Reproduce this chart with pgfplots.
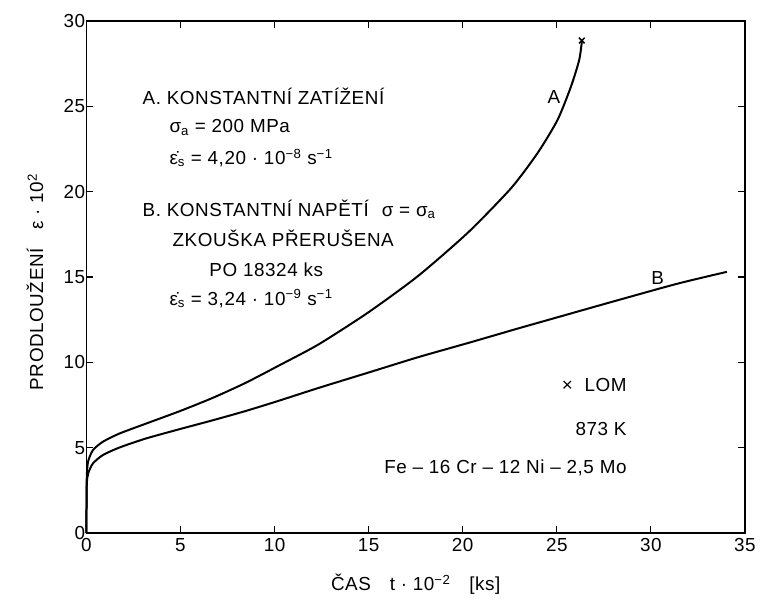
\documentclass[border=0pt]{standalone}
\usepackage{fontspec}
\setmainfont[LetterSpace=3]{Liberation Sans}
\usepackage{pgfplots}
\pgfplotsset{compat=1.18}
\begin{document}
\fontsize{19}{22}\selectfont
\begin{tikzpicture}
\begin{axis}[
  scale only axis, width=661bp, height=514bp,
  xmin=0, xmax=35, ymin=0, ymax=30,
  xtick={0,5,...,35}, ytick={0,5,...,30},
  tick align=inside, tick pos=both, major tick length=7bp,
  axis line style={line width=1.2bp},
  tick style={line width=1.2bp, black},
  /pgf/number format/assume math mode=true,
  ticklabel style={font=\fontsize{19}{22}\selectfont},
  xticklabel style={yshift=1bp},
  yticklabel style={inner xsep=1bp},
  xlabel={ČAS\quad t · 10\textsuperscript{−2}\quad [ks]},
  xlabel style={at={(axis description cs:0.5,-0.112)}, anchor=base},
  ylabel={PRODLOUŽENÍ\quad ε · 10\textsuperscript{2}},
  ylabel style={at={(axis description cs:-0.078,0.49)}, anchor=center},
  clip=false,
]
\addplot[black, line width=2bp, smooth, tension=0.4] coordinates {
(0,0) (0.02,3.2) (0.09,4.18) (0.35,4.86) (0.88,5.35) (1.76,5.83) (3.17,6.41)
(4.94,7.13) (6.7,7.91) (8.47,8.80) (10.23,9.81) (12.34,11.05) (14.99,12.93)
(17.63,15.06) (20.28,17.6) (22.57,20.2) (23.98,22.26) (25.04,24.2)
(25.75,26.14) (26.19,27.7) (26.33,28.77)
};
\addplot[black, line width=2bp, smooth, tension=0.4] coordinates {
(0,0) (0.02,2.8) (0.1,3.5) (0.35,4.08) (0.88,4.57) (1.76,5.01) (3.17,5.54)
(4.94,6.08) (6.7,6.6) (8.47,7.15) (10.23,7.75) (12.34,8.5) (14.99,9.4)
(17.63,10.3) (20.5,11.2) (22.93,11.98) (24.34,12.42) (27.86,13.52)
(31.39,14.6) (34.04,15.3)
};
\addplot[only marks, mark=x, mark size=4bp, line width=1.5bp, black] coordinates {(26.33,28.85)};

\node[anchor=base west, inner sep=0pt] at (axis cs:2.98,25.10) {A. KONSTANTNÍ ZATÍŽENÍ};
\node[anchor=base west, inner sep=0pt] at (axis cs:4.41,23.46) {σ\textsubscript{a} = 200 MPa};
\node[anchor=base west, inner sep=0pt] at (axis cs:4.41,21.6) {\.{ε}\textsubscript{s} = 4,20 · 10\textsuperscript{−8} s\textsuperscript{−1}};
\node[anchor=base west, inner sep=0pt] at (axis cs:2.98,18.56) {B. KONSTANTNÍ NAPĚTÍ};
\node[anchor=base west, inner sep=0pt] at (axis cs:15.69,18.56) {σ = σ\textsubscript{a}};
\node[anchor=base west, inner sep=0pt] at (axis cs:4.57,16.81) {ZKOUŠKA PŘERUŠENA};
\node[anchor=base west, inner sep=0pt] at (axis cs:6.53,15.0) {PO 18324 ks};
\node[anchor=base west, inner sep=0pt] at (axis cs:4.41,13.35) {\.{ε}\textsubscript{s} = 3,24 · 10\textsuperscript{−9} s\textsuperscript{−1}};
\node[inner sep=0pt] at (axis cs:24.85,25.55) {A};
\node[inner sep=0pt] at (axis cs:30.36,14.92) {B};
\node[anchor=base east, inner sep=0pt] at (axis cs:28.72,8.29) {×\ \ LOM};
\node[anchor=base east, inner sep=0pt] at (axis cs:28.72,5.72) {873 K};
\node[anchor=base east, inner sep=0pt] at (axis cs:28.72,3.5) {Fe – 16 Cr – 12 Ni – 2,5 Mo};
\end{axis}
\path (current axis.south west) ++(-86.7bp,-63bp) rectangle ++(762bp,598bp);
\end{tikzpicture}
\end{document}
